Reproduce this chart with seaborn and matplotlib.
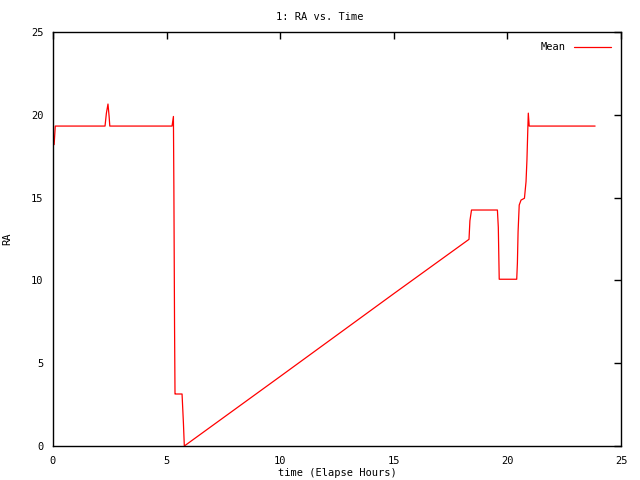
import pandas as pd
import matplotlib
matplotlib.use("Agg")
import matplotlib.pyplot as plt
import seaborn as sns

# values (elapsed hours, RA)
hours = [0.0, 0.05, 0.1, 2.29, 2.35, 2.42, 2.47, 2.5, 5.24, 5.3, 5.32,
         5.35, 5.37, 5.40, 5.68, 5.74, 5.78, 10.0, 15.0, 18.31, 18.35,
         18.42, 19.56, 19.6, 19.64, 20.41, 20.44, 20.47, 20.52, 20.6,
         20.75, 20.82, 20.86, 20.9, 20.92, 20.96, 23.86]
ra = [18.2, 18.2, 19.32, 19.32, 20.1, 20.65, 19.9, 19.32, 19.32, 19.9,
      15.66, 7.2, 3.14, 3.14, 3.14, 1.39, 0.0, 4.2, 9.2, 12.48, 13.6,
      14.25, 14.25, 13.2, 10.07, 10.07, 11.05, 12.94, 14.55, 14.85,
      14.96, 15.96, 17.27, 19.2, 20.1, 19.32, 19.32]

df = pd.DataFrame({"hours": hours, "ra": ra})

sns.set_style("white")
plt.rcParams["font.family"] = ["DejaVu Sans Mono"]
plt.rcParams["text.color"] = "black"
plt.rcParams["axes.labelcolor"] = "black"

fig = plt.figure(figsize=(6.4, 4.8), dpi=100)
ax = fig.add_axes([53 / 640, 34 / 480, 568 / 640, 414 / 480])
sns.lineplot(data=df, x="hours", y="ra", color="red", linewidth=0.9,
             label="Mean", ax=ax, sort=False)

ax.set_xlim(0, 25)
ax.set_ylim(0, 25)
ax.set_xticks(range(0, 26, 5))
ax.set_yticks(range(0, 26, 5))
ax.tick_params(direction="in", top=True, right=True, length=5, width=1,
               labelsize=7.5, pad=7, colors="black")
for s in ax.spines.values():
    s.set_color("black")
    s.set_linewidth(1)
ax.set_xlabel("time (Elapse Hours)", fontsize=7.5)
ax.set_ylabel("RA", fontsize=7.5)
ax.xaxis.set_label_coords(0.5, -0.052)
ax.yaxis.set_label_coords(-0.072, 0.5)
fig.suptitle("1: RA vs. Time", y=0.975, fontsize=7.5)

ax.legend(loc="upper right", frameon=False, fontsize=7.5,
          markerfirst=False, handlelength=3.5, borderaxespad=0.6)

fig.savefig("out.png", dpi=100)
